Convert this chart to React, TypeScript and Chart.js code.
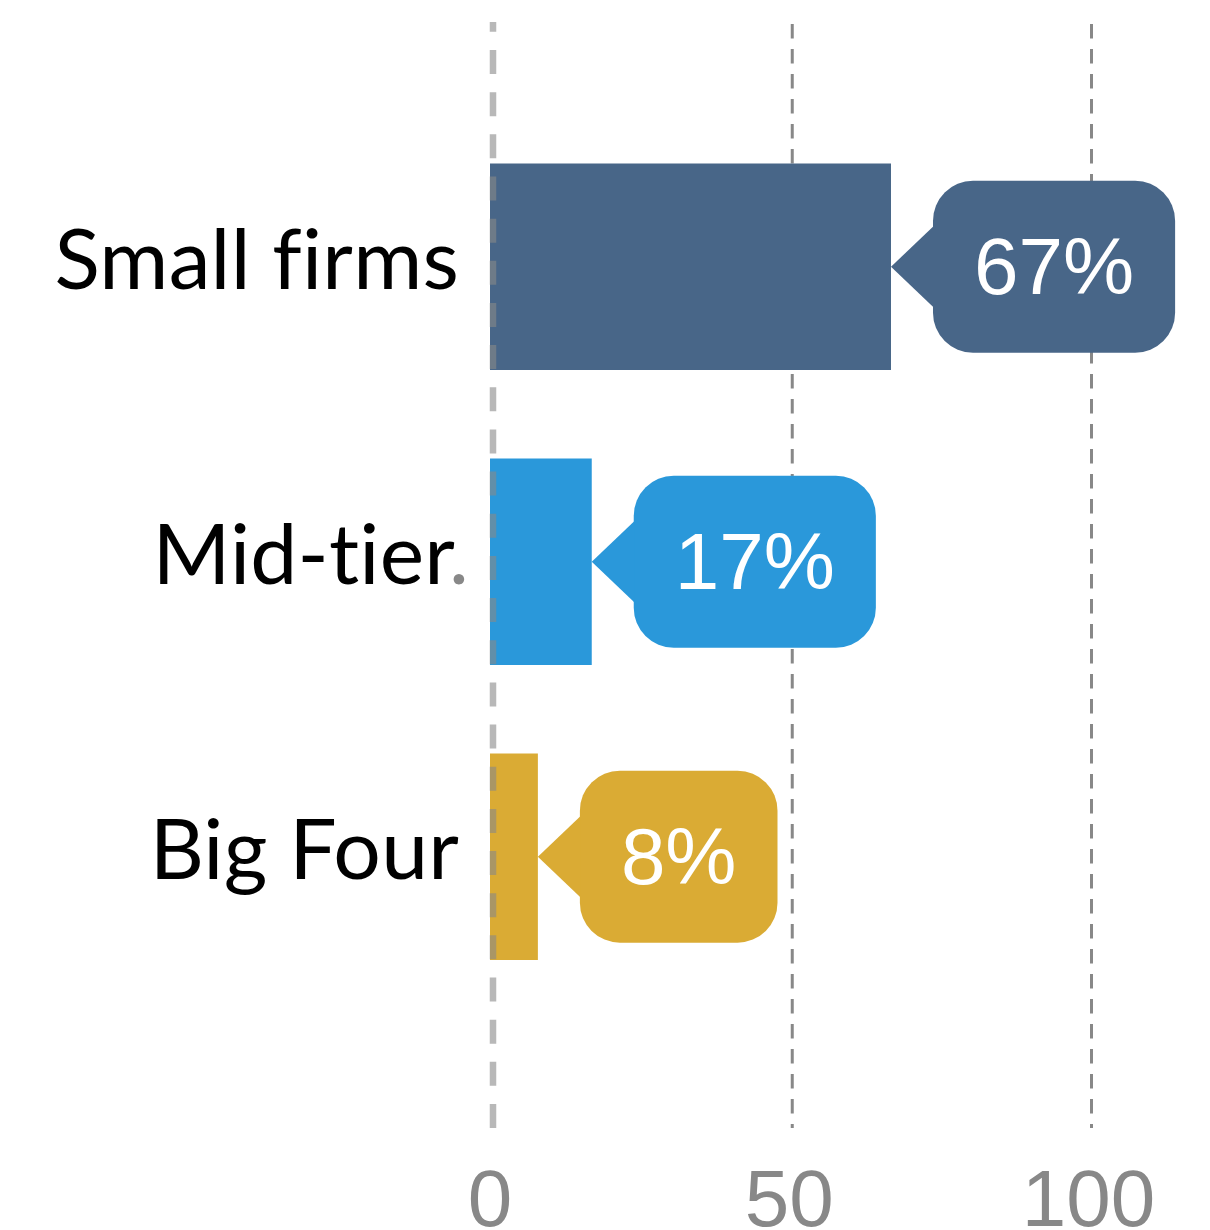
import React, { useEffect, useRef } from 'react';
import { Chart, registerables } from 'chart.js';

Chart.register(...registerables);

const categories = ['Small firms', 'Mid-tier', 'Big Four'];
const labelSuffixes = ['', '.', ''];
const shares = [67, 17, 8];
const barColors = ['#486688', '#2A98DA', '#DAAB34'];
const xTickValues = [0, 50, 100];

export default function App() {
  const ref = useRef<HTMLCanvasElement>(null);

  useEffect(() => {
    document.body.style.margin = '0';
    document.body.style.overflow = 'hidden';
    const canvas = ref.current!;

    const decor = {
      id: 'decor',
      beforeDatasetsDraw(chart: any) {
        const { ctx, chartArea, scales } = chart;
        const xs = scales.x;
        ctx.save();
        ctx.strokeStyle = '#888888';
        ctx.lineWidth = 3;
        ctx.setLineDash([14.5, 10.5]);
        xTickValues.filter((t) => t !== 0).forEach((t) => {
          const px = xs.getPixelForValue(t) + 3;
          ctx.beginPath();
          ctx.moveTo(px, chartArea.top + 2);
          ctx.lineTo(px, chartArea.bottom);
          ctx.stroke();
        });
        ctx.restore();
      },
      afterDatasetsDraw(chart: any) {
        const { ctx, chartArea, scales } = chart;
        const xs = scales.x;
        const ys = scales.y;
        ctx.save();
        // zero line on top of the bars
        const zx = xs.getPixelForValue(0) + 3;
        ctx.strokeStyle = 'rgba(136,136,136,0.6)';
        ctx.lineWidth = 6.5;
        ctx.setLineDash([24, 18.16]);
        ctx.beginPath();
        ctx.moveTo(zx, chartArea.bottom);
        ctx.lineTo(zx, chartArea.top);
        ctx.stroke();
        ctx.setLineDash([]);

        // callouts
        const meta = chart.getDatasetMeta(0);
        ctx.font = "80px 'Liberation Sans', Arial, sans-serif";
        meta.data.forEach((bar: any, i: number) => {
          const bx = bar.x;
          const by = bar.y;
          const text = shares[i] + '%';
          const tw = ctx.measureText(text).width;
          const left = bx + 42;
          const w = tw + 82;
          const h = 172;
          ctx.fillStyle = barColors[i];
          ctx.beginPath();
          ctx.roundRect(left, by - h / 2, w, h, 40);
          ctx.fill();
          ctx.beginPath();
          ctx.moveTo(bx, by);
          ctx.lineTo(left + 1, by - 41);
          ctx.lineTo(left + 1, by + 41);
          ctx.closePath();
          ctx.fill();
          ctx.fillStyle = '#ffffff';
          ctx.textAlign = 'center';
          ctx.textBaseline = 'alphabetic';
          ctx.fillText(text, left + w / 2, by + 27);
        });

        // category labels (no ligatures)
        ctx.font = "84px Lato, 'Noto Sans', sans-serif";
        (ctx as any).letterSpacing = '0.2px';
        (ctx as any).textRendering = 'optimizeSpeed';
        ctx.textAlign = 'right';
        ctx.textBaseline = 'alphabetic';
        const rx = chartArea.left - 31;
        categories.forEach((c, i) => {
          const py = ys.getPixelForValue(i) + 22;
          const suffix = labelSuffixes[i];
          ctx.fillStyle = '#000000';
          if (suffix) {
            ctx.fillText(c, rx - 4, py);
            ctx.fillStyle = '#888888';
            ctx.fillText(suffix, rx + 10, py);
          } else {
            ctx.fillText(c, rx, py);
          }
        });
        ctx.restore();
      },
    };

    const chart = new Chart(canvas, {
      type: 'bar',
      data: {
        datasets: [
          {
            data: shares.map((v, i) => ({ x: v, y: i })),
            backgroundColor: barColors,
            borderWidth: 0,
            barPercentage: 0.7,
            categoryPercentage: 1,
            clip: false,
          } as any,
        ],
      },
      options: {
        indexAxis: 'y',
        animation: false,
        responsive: false,
        layout: { padding: { top: 22, right: 121.5, left: 0, bottom: 0 } },
        plugins: { legend: { display: false }, tooltip: { enabled: false } },
        scales: {
          x: {
            type: 'linear',
            min: 0,
            max: 100,
            afterBuildTicks: (s: any) => {
              s.ticks = xTickValues.map((v) => ({ value: v }));
            },
            grid: { display: false, drawTicks: false },
            border: { display: false },
            ticks: {
              font: { family: "'Liberation Sans', Arial, sans-serif", size: 80 },
              color: '#888888',
              padding: 28,
              maxRotation: 0,
            },
            afterFit: (s: any) => {
              s.height = 102;
            },
          },
          y: {
            type: 'linear',
            reverse: true,
            offset: false,
            grace: 0,
            min: -0.83,
            max: 2.92,
            afterBuildTicks: (s: any) => {
              s.ticks = categories.map((_, i) => ({ value: i }));
            },
            ticks: { display: false },
            grid: { display: false, drawTicks: false, offset: false },
            border: { display: false },
            afterFit: (s: any) => {
              s.width = 490;
            },
          },
        },
      } as any,
      plugins: [decor],
    });

    return () => chart.destroy();
  }, []);

  return (
    <div style={{ width: 1210, height: 1230 }}>
      <canvas ref={ref} width={1210} height={1230} style={{ display: 'block' }} />
    </div>
  );
}
